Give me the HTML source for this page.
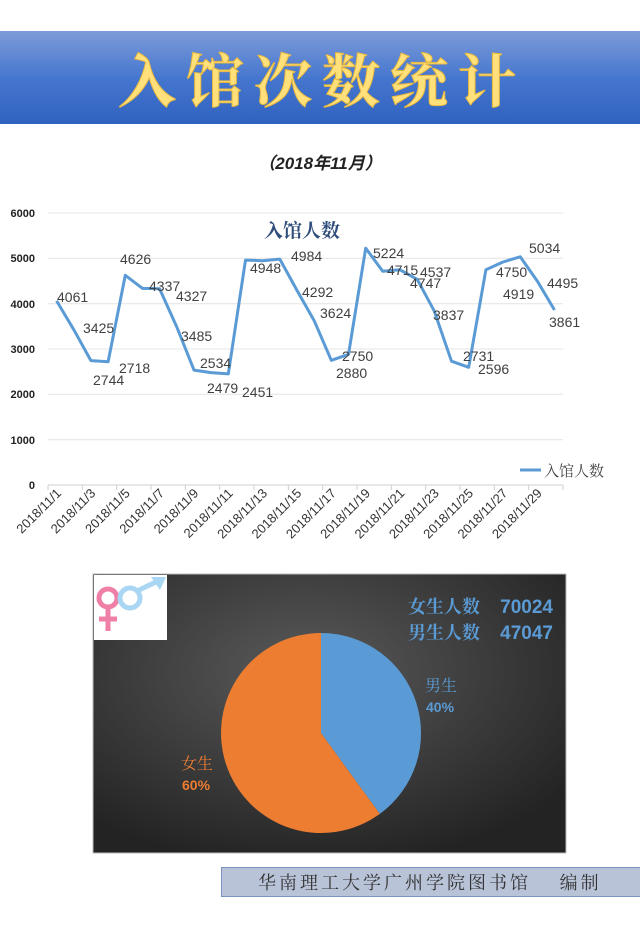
<!DOCTYPE html>
<html><head><meta charset="utf-8"><style>
body{margin:0;width:640px;height:924px;background:#fff;overflow:hidden;font-family:"Liberation Sans","Noto Sans CJK SC",sans-serif}
</style></head><body>
<svg width="640" height="924" xmlns="http://www.w3.org/2000/svg">
<defs>
<linearGradient id="bn" x1="0" y1="0" x2="0" y2="1"><stop offset="0" stop-color="#7d9bd8"/><stop offset="0.5" stop-color="#4677cf"/><stop offset="1" stop-color="#2f62c0"/></linearGradient>
<radialGradient id="dk" cx="0.45" cy="0.35" r="0.7"><stop offset="0" stop-color="#5a5a5a"/><stop offset="1" stop-color="#232323"/></radialGradient>
</defs>
<rect x="0" y="31" width="640" height="93" fill="url(#bn)"/>
<text x="322" y="102" text-anchor="middle" font-family="'Noto Serif CJK SC',serif" font-size="58" font-weight="bold" letter-spacing="10" fill="#ffe07a" stroke="#e8b840" stroke-width="1">入馆次数统计</text>
<text x="320" y="169" text-anchor="middle" font-size="17" font-style="italic" font-weight="bold" fill="#222" font-family="'Liberation Sans','Noto Sans CJK SC',sans-serif">（2018年11月）</text>
<g stroke="#e4e4e4" stroke-width="1">
<line x1="48" y1="213" x2="563" y2="213"/><line x1="48" y1="258.3" x2="563" y2="258.3"/><line x1="48" y1="303.7" x2="563" y2="303.7"/><line x1="48" y1="349" x2="563" y2="349"/><line x1="48" y1="394.3" x2="563" y2="394.3"/><line x1="48" y1="439.7" x2="563" y2="439.7"/>
</g>
<g stroke="#cfcfcf"><line x1="48" y1="485" x2="563" y2="485"/>
<line x1="48" y1="485" x2="48" y2="490"/><line x1="82.3" y1="485" x2="82.3" y2="490"/><line x1="116.7" y1="485" x2="116.7" y2="490"/><line x1="151" y1="485" x2="151" y2="490"/><line x1="185.3" y1="485" x2="185.3" y2="490"/><line x1="219.7" y1="485" x2="219.7" y2="490"/><line x1="254" y1="485" x2="254" y2="490"/><line x1="288.3" y1="485" x2="288.3" y2="490"/><line x1="322.7" y1="485" x2="322.7" y2="490"/><line x1="357" y1="485" x2="357" y2="490"/><line x1="391.3" y1="485" x2="391.3" y2="490"/><line x1="425.7" y1="485" x2="425.7" y2="490"/><line x1="460" y1="485" x2="460" y2="490"/><line x1="494.3" y1="485" x2="494.3" y2="490"/><line x1="528.7" y1="485" x2="528.7" y2="490"/><line x1="563" y1="485" x2="563" y2="490"/>
</g>
<g font-size="11" font-weight="bold" fill="#222" text-anchor="end">
<text x="35" y="217">6000</text><text x="35" y="262">5000</text><text x="35" y="308">4000</text><text x="35" y="353">3000</text><text x="35" y="398">2000</text><text x="35" y="444">1000</text><text x="35" y="489">0</text>
</g>
<text x="302" y="237" text-anchor="middle" font-family="'Noto Serif CJK SC',serif" font-size="19" font-weight="bold" fill="#2e4d7a">入馆人数</text>
<polyline fill="none" stroke="#5b9bd5" stroke-width="3" stroke-linejoin="round" points="56.6,300.9 73.8,329.7 90.9,360.6 108.1,361.8 125.3,275.3 142.5,288.4 159.6,288.8 176.8,327 194,370.1 211.1,372.6 228.3,373.9 245.5,260.1 262.6,260.7 279.8,259.1 297,290.4 314.2,320.7 331.3,360.3 348.5,354.4 365.7,248.2 382.8,271.3 400,269.8 417.2,279.3 434.3,311.1 451.5,361.2 468.7,367.3 485.9,269.7 503,262 520.2,256.8 537.4,281.2 554.5,310"/>
<g font-size="14" fill="#404040">
<text x="57" y="302">4061</text><text x="83" y="333">3425</text><text x="93" y="385">2744</text><text x="119" y="373">2718</text><text x="120" y="264">4626</text><text x="149" y="291">4337</text><text x="176" y="301">4327</text><text x="181" y="341">3485</text><text x="200" y="368">2534</text><text x="207" y="393">2479</text><text x="242" y="397">2451</text><text x="250" y="273">4948</text><text x="291" y="261">4984</text><text x="302" y="297">4292</text><text x="320" y="318">3624</text><text x="342" y="361">2750</text><text x="336" y="378">2880</text><text x="373" y="258">5224</text><text x="387" y="275">4715</text><text x="420" y="277">4537</text><text x="410" y="288">4747</text><text x="433" y="320">3837</text><text x="463" y="361">2731</text><text x="478" y="374">2596</text><text x="496" y="277">4750</text><text x="503" y="299">4919</text><text x="529" y="253">5034</text><text x="547" y="288">4495</text><text x="549" y="327">3861</text>
</g>
<line x1="520" y1="470" x2="541" y2="470" stroke="#5b9bd5" stroke-width="3"/>
<text x="544" y="476" font-size="15" fill="#444" font-family="'Noto Serif CJK SC',serif">入馆人数</text>
<g font-size="13" fill="#333" text-anchor="end">
<text transform="translate(62,494) rotate(-45)">2018/11/1</text>
<text transform="translate(96.3,494) rotate(-45)">2018/11/3</text>
<text transform="translate(130.7,494) rotate(-45)">2018/11/5</text>
<text transform="translate(165,494) rotate(-45)">2018/11/7</text>
<text transform="translate(199.3,494) rotate(-45)">2018/11/9</text>
<text transform="translate(233.7,494) rotate(-45)">2018/11/11</text>
<text transform="translate(268,494) rotate(-45)">2018/11/13</text>
<text transform="translate(302.3,494) rotate(-45)">2018/11/15</text>
<text transform="translate(336.7,494) rotate(-45)">2018/11/17</text>
<text transform="translate(371,494) rotate(-45)">2018/11/19</text>
<text transform="translate(405.3,494) rotate(-45)">2018/11/21</text>
<text transform="translate(439.7,494) rotate(-45)">2018/11/23</text>
<text transform="translate(474,494) rotate(-45)">2018/11/25</text>
<text transform="translate(508.3,494) rotate(-45)">2018/11/27</text>
<text transform="translate(542.7,494) rotate(-45)">2018/11/29</text>
</g>
<rect x="93" y="574" width="473" height="279" fill="url(#dk)" stroke="#bbb" stroke-width="1"/>
<rect x="94" y="575" width="73" height="65" fill="#fff"/>
<circle cx="108" cy="598" r="9" fill="none" stroke="#ef7fa6" stroke-width="5"/>
<line x1="108" y1="607" x2="108" y2="631" stroke="#ef7fa6" stroke-width="5"/>
<line x1="99" y1="619" x2="117" y2="619" stroke="#ef7fa6" stroke-width="5"/>
<circle cx="130" cy="598" r="10" fill="none" stroke="#a8d6f3" stroke-width="5"/>
<line x1="137" y1="591" x2="158" y2="581" stroke="#a8d6f3" stroke-width="5"/>
<polygon points="166,577 151,577 160,590" fill="#a8d6f3"/>
<path d="M321,733 L321,633 A100,100 0 0 1 379.8,813.9 Z" fill="#5b9bd5"/>
<path d="M321,733 L379.8,813.9 A100,100 0 1 1 321,633 Z" fill="#ed7d31"/>
<g font-size="18" font-weight="bold" fill="#5b9bd5" font-family="'Noto Serif CJK SC',serif">
<text x="408" y="613">女生人数</text><text x="408" y="639">男生人数</text>
</g>
<g font-size="19" font-weight="bold" fill="#5b9bd5" font-family="'Liberation Sans',sans-serif" text-anchor="end">
<text x="553" y="613">70024</text><text x="553" y="639">47047</text>
</g>
<text x="425" y="691" font-size="16" fill="#5b9bd5" font-family="'Noto Serif CJK SC',serif">男生</text>
<text x="426" y="712" font-size="14" font-weight="bold" fill="#5b9bd5">40%</text>
<text x="181" y="769" font-size="16" fill="#ed7d31" font-family="'Noto Serif CJK SC',serif">女生</text>
<text x="182" y="790" font-size="14" font-weight="bold" fill="#ed7d31">60%</text>
<rect x="221.5" y="867.5" width="420" height="29" fill="#b8c3d8" stroke="#7c93c0" stroke-width="1"/>
<text x="258" y="889" font-size="18" fill="#333" letter-spacing="3" font-family="'Noto Serif CJK SC',serif">华南理工大学广州学院图书馆　 编制</text>
</svg>
</body></html>
